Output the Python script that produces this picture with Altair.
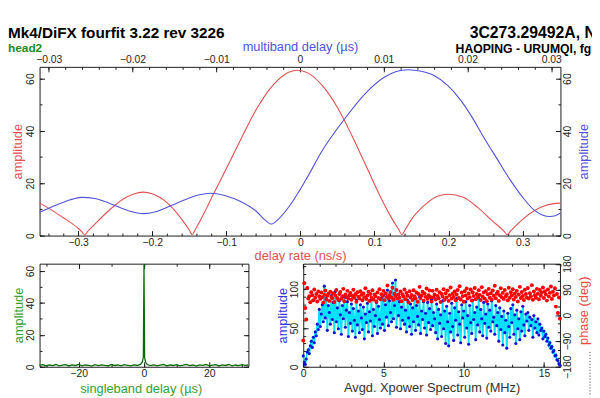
import altair as alt
import pandas as pd
import numpy as np

# ---------------- data ----------------
# main panel, red: amplitude vs delay rate (ns/s)
rate_x = [-0.352, -0.34, -0.32, -0.30, -0.295, -0.291, -0.287, -0.28, -0.26, -0.24, -0.225,
          -0.212, -0.20, -0.18, -0.16, -0.15, -0.146, -0.142, -0.13, -0.118, -0.10, -0.08,
          -0.06, -0.04, -0.02, -0.004, 0.01, 0.03, 0.05, 0.07, 0.09, 0.11, 0.125, 0.133,
          0.137, 0.141, 0.15, 0.17, 0.185, 0.20, 0.22, 0.24, 0.26, 0.275, 0.279, 0.283,
          0.29, 0.30, 0.316, 0.33, 0.34, 0.351]
rate_amp = [12.4, 10.5, 6.8, 2.8, 1.5, 0.3, 1.6, 3.6, 9.2, 13.8, 15.9,
            16.6, 16.0, 12.6, 6.2, 2.1, 0.3, 2.2, 8.5, 15.5, 25.5, 37.0,
            48.0, 56.5, 61.8, 63.2, 62.2, 57.2, 49.0, 38.0, 25.8, 13.7, 5.8, 2.2,
            0.3, 2.0, 6.2, 12.2, 15.0, 15.8, 14.6, 10.6, 5.4, 1.6, 0.3, 1.5,
            3.5, 6.2, 9.6, 11.4, 12.1, 12.4]

# main panel, blue: amplitude vs multiband delay (us)
mbd_x = [-0.0311, -0.029, -0.0275, -0.0261, -0.0245, -0.0233, -0.0221, -0.0205, -0.0186,
         -0.017, -0.0155, -0.0135, -0.012, -0.0107, -0.009, -0.0071, -0.0052, -0.0042,
         -0.0034, -0.0026, -0.0013, 0.0007, 0.0027, 0.0052, 0.0078, 0.0101, 0.0115,
         0.0129, 0.0145, 0.016, 0.0176, 0.0192, 0.0206, 0.0219, 0.0235, 0.0251, 0.0266,
         0.028, 0.029, 0.0298, 0.0305, 0.0311]
mbd_amp = [8.9, 11.8, 13.6, 14.6, 14.2, 13.0, 11.5, 9.5, 8.4,
           9.3, 11.3, 14.0, 15.6, 16.2, 15.3, 13.0, 9.2, 6.0,
           4.4, 6.2, 11.1, 21.3, 32.7, 44.1, 54.3, 60.6, 62.7,
           63.4, 62.8, 61.2, 57.5, 51.7, 45.0, 37.8, 29.5, 21.3, 14.6,
           9.6, 7.8, 7.3, 7.6, 8.6]

# bottom-left: amplitude vs singleband delay (us)
sbd_x = [-32, -31, -30, -29, -28, -27, -26, -25, -24, -23, -22, -21, -20, -19, -18, -17,
         -16, -15, -14, -13, -12, -11, -10, -9, -8, -7, -6, -5, -4, -3, -2, -1,
         -0.5, -0.2, 0, 0.2, 0.5,
         1, 2, 3, 4, 5, 6, 7, 8, 9, 10, 11, 12, 13, 14, 15, 16,
         17, 18, 19, 20, 21, 22, 23, 24, 25, 26, 27, 28, 29, 30, 31, 32]
sbd_amp = [0.8, 1.3, 0.5, 1.1, 0.7, 1.4, 0.6, 1.0, 1.3, 0.5, 1.2, 0.8, 1.5, 0.6, 1.1, 0.9,
           0.4, 1.3, 0.7, 1.2, 0.9, 0.5, 1.4, 0.8, 1.1, 0.6, 1.3, 0.9, 0.5, 1.2, 0.8, 1.6,
           3.0, 6.0, 64.2, 5.5, 2.8,
           1.4, 0.7, 1.2, 0.6, 1.0, 1.4, 0.5, 1.1, 0.8, 1.3, 0.6, 1.0, 1.5, 0.7, 1.1, 0.4,
           1.2, 0.9, 1.4, 0.6, 1.0, 1.3, 0.5, 1.2, 0.8, 1.4, 0.6, 1.1, 0.7, 1.3, 0.9, 1.1]

# bottom-right: averaged cross-power spectrum, one value per 0.0625 MHz channel
spec_amp = [14, 6, 3, 10, 19, 22, 17, 27, 33, 25, 38, 31, 45, 40, 55, 48,
            74, 52, 68, 80, 58, 104, 63, 88, 47, 79, 70, 55, 92, 61, 83, 44,
            97, 58, 76, 49, 85, 67, 42, 79, 62, 90, 51, 73, 84, 39, 70, 56,
            81, 46, 75, 60, 38, 86, 54, 72, 44, 80, 63, 48, 77, 36, 68, 57,
            82, 45, 71, 59, 87, 40, 74, 52, 66, 83, 43, 78, 61, 50, 89, 55,
            92, 47, 80, 64, 99, 53, 85, 70, 58, 108, 62, 79, 112, 51, 88, 66,
            84, 49, 77, 60, 91, 55, 73, 45, 86, 63, 52, 81, 42, 76, 58, 88,
            47, 79, 65, 54, 90, 43, 72, 61, 84, 50, 69, 41, 83, 57, 75, 48,
            87, 53, 70, 62, 44, 81, 36, 74, 56, 67, 39, 85, 49, 72, 30, 78,
            58, 27, 69, 45, 82, 52, 34, 76, 60, 88, 41, 71, 55, 31, 80, 63,
            72, 38, 84, 50, 66, 29, 79, 57, 43, 86, 61, 70, 35, 77, 54, 89,
            45, 74, 62, 40, 83, 56, 68, 37, 81, 51, 73, 46, 85, 58, 64, 42,
            79, 53, 70, 33, 76, 48, 65, 28, 72, 44, 60, 24, 69, 52, 38, 75,
            57, 80, 42, 67, 30, 73, 49, 62, 35, 71, 46, 78, 54, 40, 68, 59,
            70, 47, 64, 53, 61, 38, 66, 50, 58, 44, 62, 41, 55, 47, 50, 36,
            46, 39, 42, 33, 37, 28, 31, 24, 26, 19, 21, 14, 15, 9, 8, 4,
            2]
spec_phase = [-88, 112, 25, -15, 95, 58, 66, 45, 80, 70, 52, 90, 61, 74, 48, 83,
              66, 57, 79, 63, 44, 71, 86, 55, 68, 75, 50, 82, 64, 59, 77, 46,
              69, 88, 60, 53, 74, 81, 57, 66, 92, 49, 72, 63, 85, 58, 70, 78,
              54, 67, 89, 61, 73, 47, 80, 65, 58, 84, 71, 52, 76, 63, 94, 57,
              69, 82, 50, 74, 61, 87, 55, 72, 66, 48, 79, 60, 91, 56, 73, 68,
              85, 52, 77, 64, 104, 59, 70, 81, 62, 96, 54, 75, 67, 88, 58, 72,
              61, 83, 49, 73, 65, 90, 56, 78, 68, 45, 84, 62, 71, 53, 87, 66,
              58, 79, 47, 74, 99, 60, 69, 82, 51, 76, 64, 93, 57, 70, 86, 63,
              48, 85, 63, 72, 55, 89, 67, 59, 80, 46, 74, 65, 91, 54, 77, 62,
              86, 50, 70, 97, 58, 75, 64, 83, 52, 72, 88, 60, 101, 55, 79, 66,
              47, 84, 69, 93, 58, 76, 63, 90, 51, 80, 67, 95, 56, 74, 62, 87,
              71, 53, 98, 65, 79, 58, 84, 49, 73, 92, 61, 77, 55, 86, 68, 103,
              59, 75, 82, 50, 70, 94, 63, 78, 57, 88, 66, 73, 52, 96, 61, 80,
              69, 91, 55, 76, 64, 85, 48, 72, 99, 60, 81, 67, 53, 89, 74, 62,
              95, 58, 77, 66, 105, 54, 83, 70, 61, 92, 75, 56, 88, 68, 79, 97,
              60, 84, 72, 51, 90, 65, 78, 100, 57, 82, 69, 94, 30, 74, 8, 62,
              -12]
spec_freq = [k * 0.0625 for k in range(len(spec_amp))]

# tick values
rate_ticks = [-0.3, -0.2, -0.1, 0, 0.1, 0.2, 0.3]
mbd_ticks = [-0.03, -0.02, -0.01, 0, 0.01, 0.02, 0.03]
amp_ticks = [0, 20, 40, 60]
sbd_ticks = [-20, 0, 20]
freq_ticks = [0, 5, 10, 15]
spec_amp_ticks = [0, 50, 100]
phase_ticks = [-180, -90, 0, 90, 180]

rate_minor = [round(v, 3) for v in np.arange(-0.34, 0.345, 0.02)]
mbd_minor = [round(v, 4) for v in np.arange(-0.030, 0.0305, 0.002)]
amp_minor = list(range(0, 61, 10))
sbd_minor = list(range(-30, 31, 10))
freq_minor = list(range(0, 17))
spec_amp_minor = list(range(0, 131, 10))
phase_minor = list(range(-180, 181, 30))

header_left = "Mk4/DiFX fourfit 3.22 rev 3226"
header_sub = "head2"
header_src = "3C273.29492A, No0000"
header_base = "HAOPING - URUMQI, fgroup a, pol RR"

# ---------------- styling / geometry ----------------
FONT = "Liberation Sans"
FRAME = "#1a1a1a"
LABEL = "#262626"
RED = "#e05252"
BLUE = "#5252dc"
GREEN_T = "#33a033"
W, H = 592, 390
MX0, MX1, MY0, MY1 = 32, 560, 57, 228
LX0, LX1 = 32, 243.7
RX0, RX1 = 299.3, 559.5
BY0, BY1 = 256.5, 361


def S(domain, rng):
    return alt.Scale(domain=domain, range=rng, nice=False, zero=False)


rate_s = S([-0.352, 0.351], [MX0, MX1])
mbd_s = S([-0.0311, 0.0311], [MX0, MX1])
amp_s = S([0, 64.5], [MY1, MY0])
sbd_s = S([-32, 32], [LX0, LX1])
sbda_s = S([0, 64.6], [BY1, BY0])
freq_s = S([0, 16], [RX0, RX1])
specA_s = S([0, 133], [BY1, BY0])
phase_s = S([-180, 180], [BY1, BY0])


def tick_axis(orient, offset, values, size, domain):
    return alt.Axis(orient=orient, offset=offset, values=list(values), grid=False,
                    domain=domain, domainColor=FRAME, domainWidth=1,
                    ticks=True, tickSize=size, tickColor=FRAME, tickWidth=1,
                    labels=False, title=None)


def label_axis(orient, offset, values, fmt, pad, align, baseline, angle=0,
               title=None, tcolor=LABEL, tx=0, ty=0):
    kw = dict(orient=orient, offset=offset, values=list(values), grid=False,
              domain=False, ticks=False, tickSize=0, labels=True, format=fmt,
              labelFont=FONT, labelFontSize=10.5, labelColor=LABEL, labelPadding=pad,
              labelFlush=False, labelOverlap=False, labelAngle=angle,
              labelAlign=align, labelBaseline=baseline)
    if title:
        kw.update(title=title, titleColor=tcolor, titleFont=FONT, titleFontSize=13,
                  titleFontWeight="normal", titleX=tx, titleY=ty, titleAlign="center",
                  titleBaseline="middle",
                  titleAngle=270 if orient in ("left", "right") else 0)
    else:
        kw["title"] = None
    return alt.Axis(**kw)


def axis_layers(xpairs, ypairs):
    n = max(len(xpairs), len(ypairs))
    out = []
    for i in range(n):
        xs, xa = xpairs[i] if i < len(xpairs) else (xpairs[0][0], None)
        ys, ya = ypairs[i] if i < len(ypairs) else (ypairs[0][0], None)
        d = pd.DataFrame({"a": [xs.domain[0]], "b": [ys.domain[0]]})
        out.append(alt.Chart(d).mark_point(opacity=0, size=1).encode(
            x=alt.X("a:Q", scale=xs, axis=xa), y=alt.Y("b:Q", scale=ys, axis=ya)))
    return out


def frame(x_bottom, x_top, y_left, y_right, x0, x1, y0, y1,
          xmaj_b, xmin_b, xmaj_t, xmin_t, ymaj_l, ymin_l, ymaj_r, ymin_r,
          xlab_b=None, xlab_t=None, ylab_l=None, ylab_r=None):
    xp = [(x_bottom, tick_axis("top", -y1, xmaj_b, 5, True)),
          (x_bottom, tick_axis("top", -y1, xmin_b, 2.5, False)),
          (x_top, tick_axis("bottom", y0 - H, xmaj_t, 5, True)),
          (x_top, tick_axis("bottom", y0 - H, xmin_t, 2.5, False))]
    yp = [(y_left, tick_axis("right", x0 - W, ymaj_l, 5, True)),
          (y_left, tick_axis("right", x0 - W, ymin_l, 2.5, False)),
          (y_right, tick_axis("left", -x1, ymaj_r, 5, True)),
          (y_right, tick_axis("left", -x1, ymin_r, 2.5, False))]
    if xlab_b is not None:
        xp.append((x_bottom, xlab_b))
    if xlab_t is not None:
        xp.append((x_top, xlab_t))
    if ylab_l is not None:
        yp.append((y_left, ylab_l))
    if ylab_r is not None:
        yp.append((y_right, ylab_r))
    return axis_layers(xp, yp)


layers = []

# ---- main panel axes
layers += frame(
    rate_s, mbd_s, amp_s, amp_s, MX0, MX1, MY0, MY1,
    rate_ticks, rate_minor, mbd_ticks, mbd_minor, amp_ticks, amp_minor, amp_ticks, amp_minor,
    xlab_b=label_axis("bottom", MY1 - H, rate_ticks, ".1~f", 2.5, "center", "top",
                      title="delay rate (ns/s)", tcolor=RED, tx=(MX0 + MX1) / 2, ty=20),
    xlab_t=label_axis("top", -MY0, mbd_ticks, ".2~f", 2, "center", "bottom",
                      title="multiband delay (\u00b5s)", tcolor=BLUE, tx=(MX0 + MX1) / 2, ty=-21),
    ylab_l=label_axis("left", -MX0, amp_ticks, "d", 4, "center", "bottom", angle=270,
                      title="amplitude", tcolor=RED, tx=-22.5, ty=(MY0 + MY1) / 2),
    ylab_r=label_axis("right", MX1 - W, amp_ticks, "d", 2.5, "center", "top", angle=270,
                      title="amplitude", tcolor=BLUE, tx=23, ty=(MY0 + MY1) / 2),
)

# ---- bottom-left panel axes
layers += frame(
    sbd_s, sbd_s, sbda_s, sbda_s, LX0, LX1, BY0, BY1,
    sbd_ticks, sbd_minor, sbd_ticks, sbd_minor, amp_ticks, amp_minor, amp_ticks, amp_minor,
    xlab_b=label_axis("bottom", BY1 - H, sbd_ticks, "d", 2, "center", "top",
                      title="singleband delay (\u00b5s)", tcolor=GREEN_T, tx=134.5, ty=22),
    ylab_l=label_axis("left", -LX0, amp_ticks, "d", 4, "center", "bottom", angle=270,
                      title="amplitude", tcolor=GREEN_T, tx=-21, ty=308.5),
)

# ---- bottom-right panel axes
layers += frame(
    freq_s, freq_s, specA_s, phase_s, RX0, RX1, BY0, BY1,
    freq_ticks, freq_minor, freq_ticks, freq_minor, spec_amp_ticks, spec_amp_minor,
    phase_ticks, phase_minor,
    xlab_b=label_axis("bottom", BY1 - H, freq_ticks, "d", 2, "center", "top",
                      title="Avgd. Xpower Spectrum (MHz)", tcolor="#333333",
                      tx=(RX0 + RX1) / 2, ty=21.5),
    ylab_l=label_axis("left", -RX0, spec_amp_ticks, "d", 4, "center", "bottom", angle=270,
                      title="amplitude", tcolor="#3434e0", tx=-21.3, ty=308.7),
    ylab_r=label_axis("right", RX1 - W, phase_ticks, "d", 2.5, "center", "top", angle=270,
                      title="phase (deg)", tcolor="#f04848", tx=23.5, ty=303.7),
)

# ---- data marks
df_rate = pd.DataFrame({"r": rate_x, "a": rate_amp})
df_mbd = pd.DataFrame({"m": mbd_x, "a": mbd_amp})
df_sbd = pd.DataFrame({"s": sbd_x, "a": sbd_amp})
df_spec = pd.DataFrame({"f": spec_freq, "a": spec_amp, "p": spec_phase})

layers.append(alt.Chart(df_rate).mark_line(color=RED, strokeWidth=1.1, interpolate="monotone").encode(
    x=alt.X("r:Q", scale=rate_s, axis=None), y=alt.Y("a:Q", scale=amp_s, axis=None)))
layers.append(alt.Chart(df_mbd).mark_line(color=BLUE, strokeWidth=1.1, interpolate="monotone").encode(
    x=alt.X("m:Q", scale=mbd_s, axis=None), y=alt.Y("a:Q", scale=amp_s, axis=None)))
layers.append(alt.Chart(df_sbd).mark_line(color="#0b6b0b", strokeWidth=1.3).encode(
    x=alt.X("s:Q", scale=sbd_s, axis=None), y=alt.Y("a:Q", scale=sbda_s, axis=None)))
layers.append(alt.Chart(df_spec).mark_line(color="#00e1ff", strokeWidth=1.8).encode(
    x=alt.X("f:Q", scale=freq_s, axis=None), y=alt.Y("a:Q", scale=specA_s, axis=None)))
layers.append(alt.Chart(df_spec).mark_circle(color="#1212d2", size=10, opacity=1).encode(
    x=alt.X("f:Q", scale=freq_s, axis=None), y=alt.Y("a:Q", scale=specA_s, axis=None)))
layers.append(alt.Chart(df_spec).mark_circle(color="#ff0000", size=16, opacity=1).encode(
    x=alt.X("f:Q", scale=freq_s, axis=None), y=alt.Y("p:Q", scale=phase_s, axis=None)))


# ---- header texts
def txt(s, x, y, size, color):
    return alt.Chart(pd.DataFrame({"t": [s]})).mark_text(
        align="left", baseline="alphabetic", font=FONT, fontSize=size,
        fontWeight="bold", color=color).encode(x=alt.value(x), y=alt.value(y), text="t:N")


layers.append(txt(header_left, 0, 28, 15.5, "#000000"))
layers.append(txt(header_sub, 0, 42, 12, "#1e8c1e"))
layers.append(txt(header_src, 468, 28, 16, "#000000"))
layers.append(txt(header_base, 453.7, 43, 12.4, "#000000"))
layers.append(alt.Chart(pd.DataFrame({"t": [0]})).mark_rule(
    color="#333333", strokeDash=[1, 2], strokeWidth=1).encode(
    x=alt.value(590), y=alt.value(346), y2=alt.value(390)))

chart = (alt.layer(*layers)
         .resolve_scale(x="independent", y="independent")
         .properties(width=W, height=H, autosize=alt.AutoSizeParams(type="none"), padding=0)
         .configure(font=FONT)
         .configure_view(strokeWidth=0))

chart.save("out.html", embed_options={"renderer": "svg", "actions": False})
